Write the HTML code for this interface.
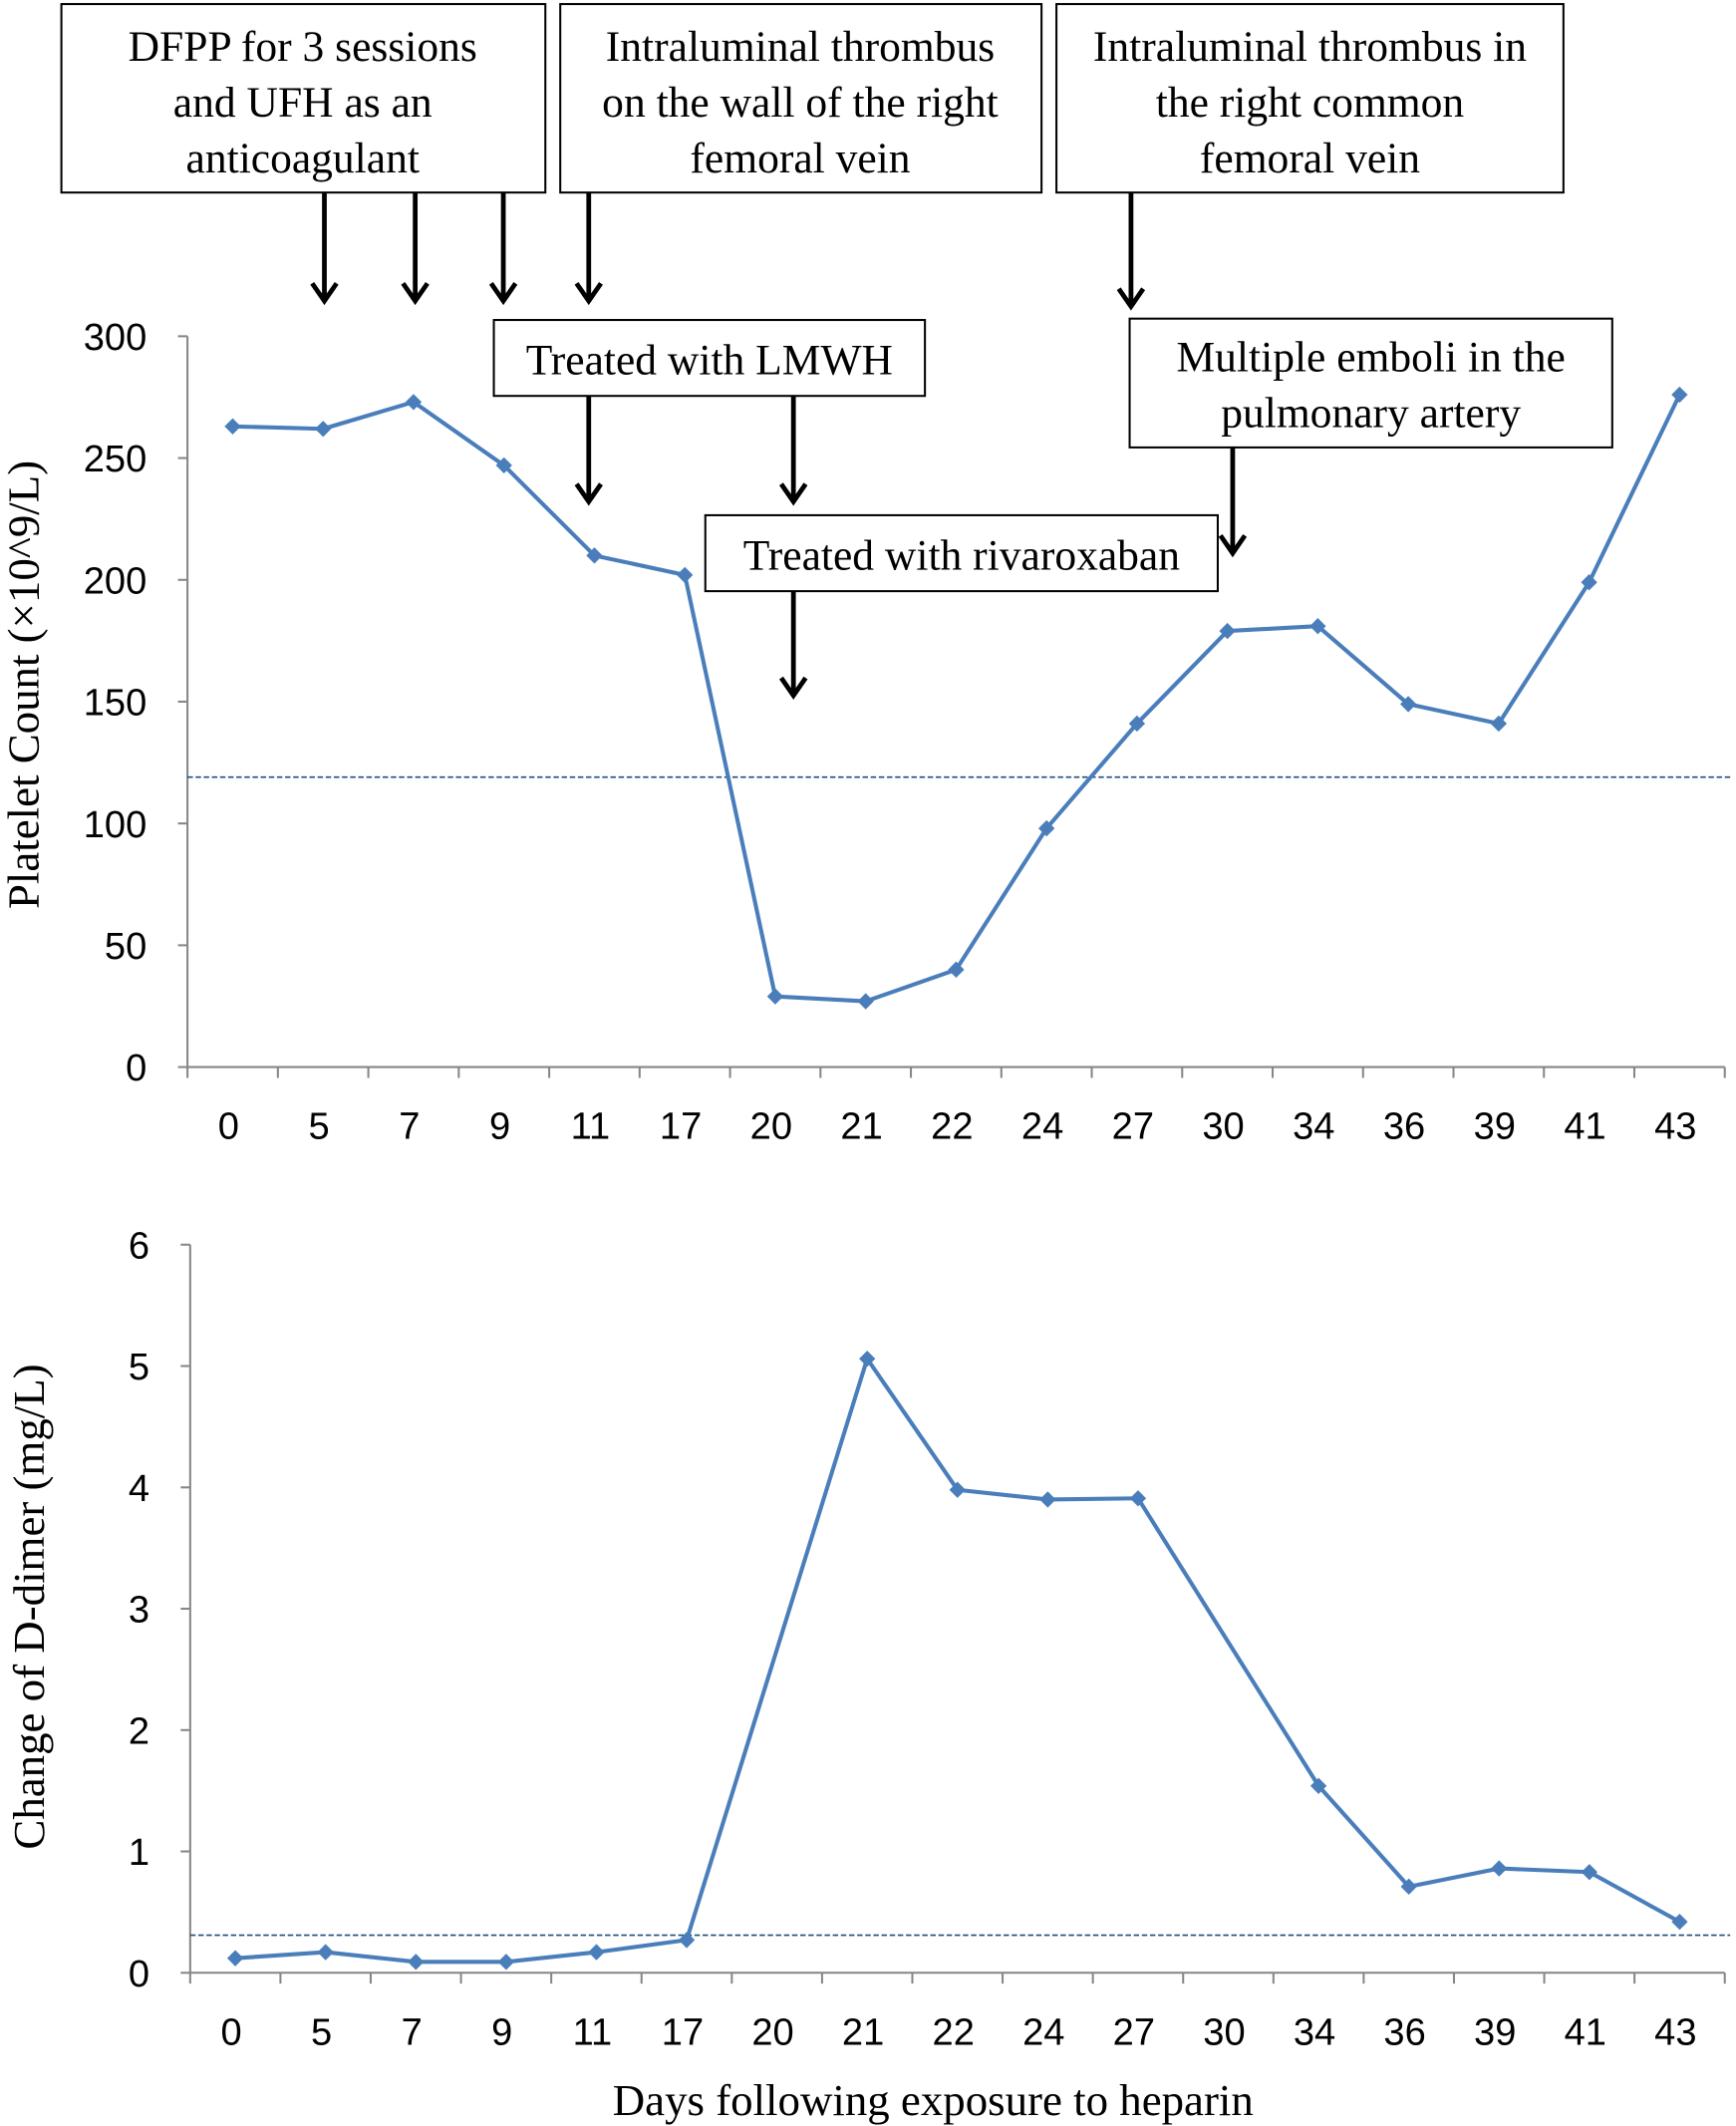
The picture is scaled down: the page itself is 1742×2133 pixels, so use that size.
<!DOCTYPE html>
<html><head><meta charset="utf-8">
<style>
html,body{margin:0;padding:0;background:#fff;}
svg{display:block;}
.ann{font-family:"Liberation Serif",serif;font-size:32px;fill:#000;}
.tick{font-family:"Liberation Sans",sans-serif;font-size:28px;fill:#000;}
.ttl{font-family:"Liberation Serif",serif;font-size:33px;fill:#000;}
</style></head>
<body>
<svg id="chart" width="1742" height="2133" viewBox="0 0 1280 1568" xmlns="http://www.w3.org/2000/svg">
<g id="annotations">
<g><rect x="45" y="3" width="357" height="139" fill="#fff" stroke="#000" stroke-width="1.5"/>
<text class="ann" x="223" y="45" text-anchor="middle">DFPP for 3 sessions</text><text class="ann" x="223" y="86" text-anchor="middle">and UFH as an</text><text class="ann" x="223" y="127" text-anchor="middle">anticoagulant</text></g>
<g><rect x="413" y="3" width="355" height="139" fill="#fff" stroke="#000" stroke-width="1.5"/>
<text class="ann" x="590" y="45" text-anchor="middle">Intraluminal thrombus</text><text class="ann" x="590" y="86" text-anchor="middle">on the wall of the right</text><text class="ann" x="590" y="127" text-anchor="middle">femoral vein</text></g>
<g><rect x="779" y="3" width="374" height="139" fill="#fff" stroke="#000" stroke-width="1.5"/>
<text class="ann" x="966" y="45" text-anchor="middle">Intraluminal thrombus in</text><text class="ann" x="966" y="86" text-anchor="middle">the right common</text><text class="ann" x="966" y="127" text-anchor="middle">femoral vein</text></g>
<g><rect x="364" y="236" width="318" height="56" fill="#fff" stroke="#000" stroke-width="1.5"/>
<text class="ann" x="523" y="276" text-anchor="middle">Treated with LMWH</text></g>
<g><rect x="833" y="235" width="356" height="95" fill="#fff" stroke="#000" stroke-width="1.5"/>
<text class="ann" x="1011" y="274" text-anchor="middle">Multiple emboli in the</text><text class="ann" x="1011" y="315" text-anchor="middle">pulmonary artery</text></g>
<g><rect x="520" y="380" width="378" height="56" fill="#fff" stroke="#000" stroke-width="1.5"/>
<text class="ann" x="709" y="420" text-anchor="middle">Treated with rivaroxaban</text></g>
<g id="arrows" stroke="#000" stroke-width="3.5" fill="none"></g>
</g>
<g id="top"></g>
<g id="bot"></g>
<text class="ttl" transform="translate(28,505) rotate(-90)" text-anchor="middle">Platelet Count (×10^9/L)</text>
<text class="ttl" transform="translate(32,1185) rotate(-90)" text-anchor="middle">Change of D-dimer (mg/L)</text>
<text class="ttl" x="688" y="1560" text-anchor="middle">Days following exposure to heparin</text>
</svg>
<script>
const days = ["0","5","7","9","11","17","20","21","22","24","27","30","34","36","39","41","43"];
const platelet = [263,262,273,247,210,202,29,27,40,98,141,179,181,149,141,199,276];
const plateletTicks = [0,50,100,150,200,250,300];
const plateletThreshold = 119;
const ddimer = [0.12,0.17,0.09,0.09,0.17,0.27,null,5.06,3.98,3.9,3.91,null,1.54,0.71,0.86,0.83,0.42];
const ddimerTicks = [0,1,2,3,4,5,6];
const ddimerThreshold = 0.31;
const NS="http://www.w3.org/2000/svg";
function mk(tag,attrs,parent){const e=document.createElementNS(NS,tag);for(const k in attrs)e.setAttribute(k,attrs[k]);parent.appendChild(e);return e;}
const arrowG=document.getElementById('arrows');
[[239,142,222],[306,142,222],[371,142,222],[434,142,222],[834,142,226],[434,292,370],[585,292,370],[909,330,408],[585,436,513]].forEach(a=>{
  const p=mk('path',{d:`M${a[0]},${a[1]} V${a[2]} M${a[0]-9},${a[2]-13} L${a[0]},${a[2]} L${a[0]+9},${a[2]-13}`},arrowG);
  
  
});
function draw(g,cfg){
  const x0=cfg.x0,x1=1272,n=days.length,step=(x1-x0)/n;
  const xs=i=>x0+step*(i+0.5);
  const ys=v=>cfg.y0-(v-0)/(cfg.max)*(cfg.y0-cfg.yTop);
  const ax=mk('path',{d:`M${x0},${cfg.yTop} V${cfg.y0} H${x1}`,fill:'none',stroke:'#868686','stroke-width':1.5},g);
  
  
  cfg.ticks.forEach(t=>{
    mk('line',{x1:x0-7,x2:x0,y1:ys(t),y2:ys(t),stroke:'#868686','stroke-width':1.5},g);
    const tx=mk('text',{x:x0-30,y:ys(t)+10,'text-anchor':'end',class:'tick'},g);tx.textContent=t;
    
    
  });
  for(let i=0;i<=n;i++)mk('line',{x1:x0+step*i,x2:x0+step*i,y1:cfg.y0,y2:cfg.y0+8,stroke:'#868686','stroke-width':1.5},g);
  days.forEach((d,i)=>{const tx=mk('text',{x:xs(i)-3,y:cfg.y0+53,'text-anchor':'middle',class:'tick'},g);tx.textContent=d;
    
    });
  const th=mk('line',{x1:x0,x2:1276,y1:ys(cfg.thr),y2:ys(cfg.thr),stroke:'#1f4e79','stroke-width':1.2,'stroke-dasharray':'4,2'},g);
  
  
  let pts=[];cfg.vals.forEach((v,i)=>{if(v!==null)pts.push([xs(i),ys(v)]);});
  const ln=mk('polyline',{points:pts.map(p=>p.join(',')).join(' '),fill:'none',stroke:'#4a7ebb','stroke-width':3,'stroke-linejoin':'round'},g);
  
  
  pts.forEach(p=>{const m=mk('path',{d:`M${p[0]},${p[1]-6} L${p[0]+6},${p[1]} L${p[0]},${p[1]+6} L${p[0]-6},${p[1]} Z`,fill:'#4a7ebb'},g);
    
    });
}
draw(document.getElementById('top'),{x0:138,y0:787,yTop:248,max:300,ticks:plateletTicks,vals:platelet,thr:plateletThreshold});
draw(document.getElementById('bot'),{x0:140,y0:1455,yTop:918,max:6,ticks:ddimerTicks,vals:ddimer,thr:ddimerThreshold});
</script>
</body></html>
